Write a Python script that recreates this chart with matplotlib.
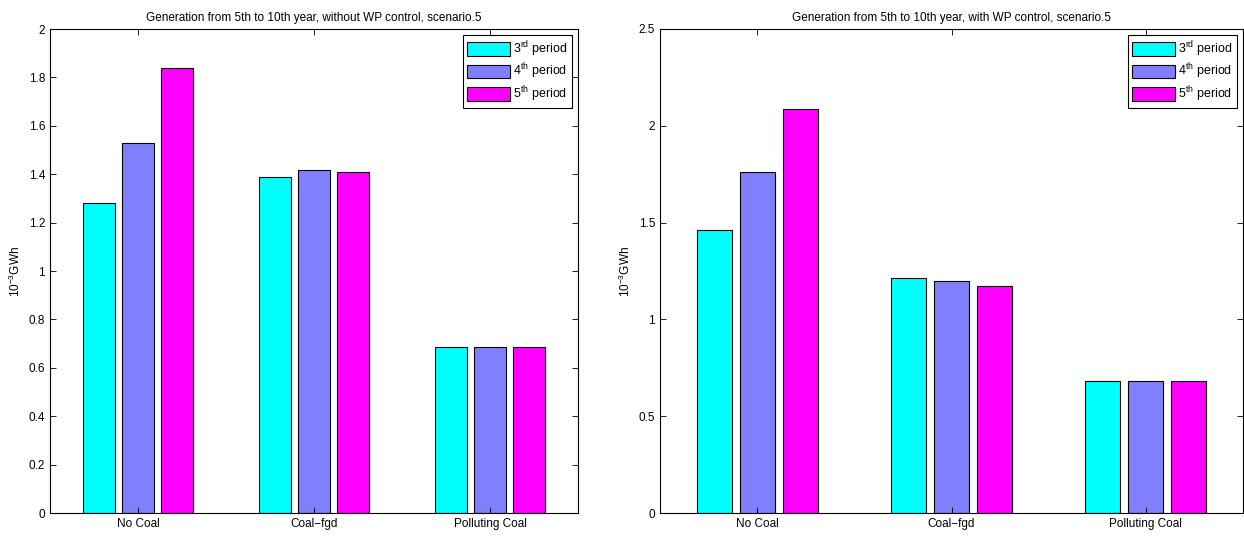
import numpy as np
import matplotlib.pyplot as plt

# data
categories = ['No Coal', 'Coal\u2212fgd', 'Polluting Coal']
periods = [r'3$^{\mathrm{rd}}$ period', r'4$^{\mathrm{th}}$ period', r'5$^{\mathrm{th}}$ period']
colors = ['#00ffff', '#8080ff', '#ff00ff']

no_wp = [
    [1.280, 1.387, 0.685],   # 3rd period
    [1.529, 1.419, 0.685],   # 4th period
    [1.839, 1.411, 0.685],   # 5th period
]
with_wp = [
    [1.462, 1.212, 0.682],
    [1.760, 1.198, 0.682],
    [2.085, 1.174, 0.682],
]

plt.rcParams['font.family'] = ['Liberation Sans', 'DejaVu Sans']
plt.rcParams['font.size'] = 8.5
plt.rcParams['mathtext.fontset'] = 'custom'
plt.rcParams['mathtext.rm'] = 'Liberation Sans'
plt.rcParams['mathtext.it'] = 'Liberation Sans:italic'
plt.rcParams['mathtext.default'] = 'regular'

fig = plt.figure(figsize=(12.44, 5.36), dpi=100)
W, H = 1244, 536
ax1 = fig.add_axes([50 / W, 1 - 513 / H, 528 / W, 484 / H])
ax2 = fig.add_axes([660 / W, 1 - 513 / H, 583 / W, 484 / H])


def draw(ax, data, title, ymax, ystep):
    x = np.arange(1, len(categories) + 1)
    offset = 0.222
    width = 0.18
    for i, vals in enumerate(data):
        ax.bar(x + (i - 1) * offset, vals, width, color=colors[i],
               edgecolor='black', linewidth=0.8, label=periods[i])
    ax.set_xlim(0.5, 3.5)
    ax.set_ylim(0, ymax)
    ax.set_xticks(x)
    ax.set_xticklabels(categories)
    yt = np.arange(0, ymax + ystep / 2, ystep)
    ax.set_yticks(yt)
    ax.set_yticklabels(['%g' % round(v, 2) for v in yt])
    ax.tick_params(direction='in', top=True, right=True, length=4, width=0.6,
                   labelsize=8.5)
    for s in ax.spines.values():
        s.set_linewidth(0.8)
    ax.set_ylabel(r'10$^{-3}$GWh', fontsize=8.5)
    ax.set_title(title, fontsize=8.5, pad=6)
    leg = ax.legend(loc='upper right', fancybox=False, edgecolor='black',
                    framealpha=1, fontsize=9, handlelength=3.4,
                    handleheight=1.3, handletextpad=0.3, borderpad=0.3,
                    labelspacing=0.25, borderaxespad=0.5)
    leg.get_frame().set_linewidth(0.8)


draw(ax1, no_wp, 'Generation from 5th to 10th year, without WP control, scenario.5', 2, 0.2)
draw(ax2, with_wp, 'Generation from 5th to 10th year, with WP control, scenario.5', 2.5, 0.5)

fig.savefig('out.png', dpi=100)
